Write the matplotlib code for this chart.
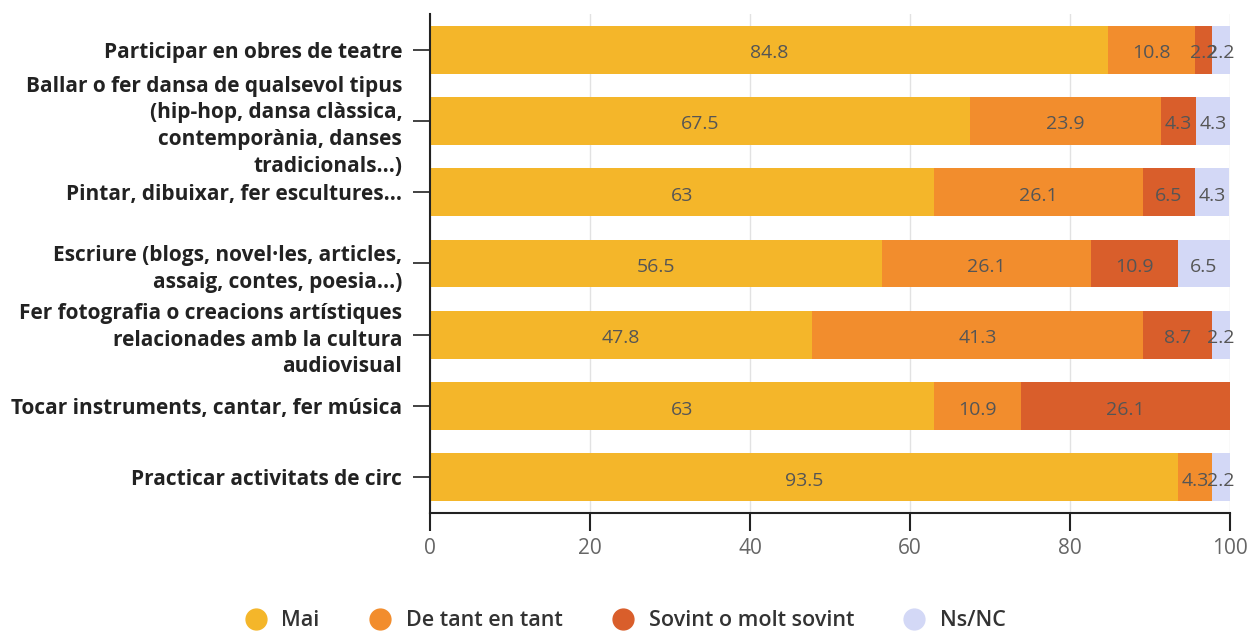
import numpy as np
import matplotlib.pyplot as plt
from matplotlib.lines import Line2D

plt.rcParams['font.family'] = ['Open Sans', 'DejaVu Sans']

# Data
categories = [
    "Participar en obres de teatre",
    "Ballar o fer dansa de qualsevol tipus\n(hip-hop, dansa clàssica,\ncontemporània, danses\ntradicionals...)",
    "Pintar, dibuixar, fer escultures...",
    "Escriure (blogs, novel·les, articles,\nassaig, contes, poesia...)",
    "Fer fotografia o creacions artístiques\nrelacionades amb la cultura\naudiovisual",
    "Tocar instruments, cantar, fer música",
    "Practicar activitats de circ",
]
series_names = ["Mai", "De tant en tant", "Sovint o molt sovint", "Ns/NC"]
mai = [84.8, 67.5, 63, 56.5, 47.8, 63, 93.5]
de_tant = [10.8, 23.9, 26.1, 26.1, 41.3, 10.9, 4.3]
sovint = [2.2, 4.3, 6.5, 10.9, 8.7, 26.1, 0]
nsnc = [2.2, 4.3, 4.3, 6.5, 2.2, 0, 2.2]
colors = ['#F4B62A', '#F28D2D', '#D95E2B', '#D3D8F6']

fig = plt.figure(figsize=(12.51, 6.32), dpi=100)
ax = fig.add_axes([430 / 1251, 1 - 513 / 632, 800 / 1251, 499 / 632])

y = np.arange(len(categories))
left = np.zeros(len(categories))
for name, vals, col in zip(series_names, [mai, de_tant, sovint, nsnc], colors):
    vals = np.array(vals, dtype=float)
    ax.barh(y, vals, left=left, height=0.67, color=col, zorder=2)
    for yi, (l, v) in enumerate(zip(left, vals)):
        if v > 0:
            ax.text(l + v / 2, yi + 0.05, f"{v:g}", ha='center', va='center',
                    fontsize=14, color='#555555', zorder=3)
    left += vals

ax.set_xlim(0, 100)
ax.set_ylim(6.5, -0.5)
ax.set_xticks(range(0, 101, 20))
ax.set_yticks(y)
ax.set_yticklabels(categories, fontsize=15, fontweight='bold', color='#3d3d3d',
                   linespacing=1.35)
ax.xaxis.grid(True, color='#e2e2e2', linewidth=1, zorder=0)
ax.tick_params(axis='x', length=13, width=1.5, colors='#222222', labelcolor='#666666',
               labelsize=15, pad=5)
ax.tick_params(axis='y', length=12, width=1.2, colors='#222222', pad=8)
for side in ['top', 'right']:
    ax.spines[side].set_visible(False)
ax.spines['left'].set_color('#222222')
ax.spines['bottom'].set_color('#222222')
ax.spines['left'].set_linewidth(1.5)
ax.spines['bottom'].set_linewidth(1.5)

handles = [Line2D([], [], marker='o', linestyle='', markersize=15, color=c) for c in colors]
fig.legend(handles, series_names, loc='center', bbox_to_anchor=(620 / 1251, 1 - 621 / 632),
           ncol=4, frameon=False, prop={'size': 15.5, 'weight': 'semibold'},
           handletextpad=0.2, columnspacing=1.8, labelcolor='#333333')

fig.savefig('out.png', dpi=100)
